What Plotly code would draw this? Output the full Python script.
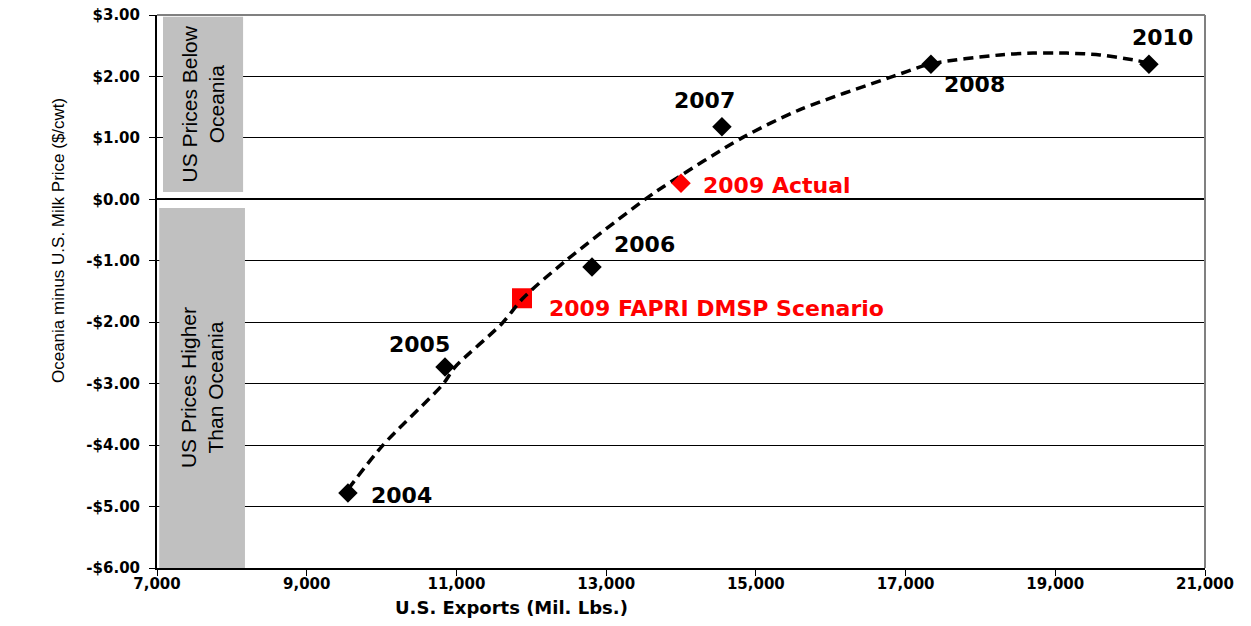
import plotly.graph_objects as go

# ---- data ----
years = ["2004", "2005", "2006", "2007", "2008", "2010"]
exports = [9551, 10847, 12811, 14547, 17339, 20251]
price_diff = [-4.78, -2.73, -1.10, 1.18, 2.20, 2.20]

actual_label = ["2009 Actual"]
actual_x = [14000]
actual_y = [0.26]

fapri_label = ["2009 FAPRI DMSP Scenario"]
fapri_x = [11876]
fapri_y = [-1.61]

# dashed trend curve
trend_x = [9551, 10019, 10820, 10981, 11609, 11889, 12450, 13519, 13759, 14815,
           15589, 16832, 17326, 18261, 18702, 19156, 19597, 20038, 20251]
trend_y = [-4.72, -4.00, -3.01, -2.73, -2.02, -1.61, -1.01, 0.00, 0.20, 1.00,
           1.46, 2.00, 2.20, 2.35, 2.38, 2.38, 2.35, 2.27, 2.22]

y_tickvals = [3, 2, 1, 0, -1, -2, -3, -4, -5, -6]
y_ticktext = ["$3.00", "$2.00", "$1.00", "$0.00", "-$1.00", "-$2.00",
              "-$3.00", "-$4.00", "-$5.00", "-$6.00"]
x_tickvals = [7000, 9000, 11000, 13000, 15000, 17000, 19000, 21000]
x_ticktext = ["7,000", "9,000", "11,000", "13,000", "15,000", "17,000", "19,000", "21,000"]

year_shifts = {"2004": (54, -2), "2005": (-25, 23), "2006": (53, 22),
               "2007": (-17, 26), "2008": (44, -20), "2010": (14, 27)}

LABEL_FONT = dict(family="DejaVu Sans", size=22, color="black")
RED_FONT = dict(family="DejaVu Sans", size=22, color="#FF0000")
BOLD_TICK = dict(family="DejaVu Sans", size=15, color="black", weight="bold")

fig = go.Figure()

fig.add_trace(go.Scatter(
    x=fapri_x, y=fapri_y, mode="markers",
    marker=dict(symbol="square", size=20, color="#FF0000", line=dict(width=0)),
    hoverinfo="skip"))

fig.add_trace(go.Scatter(
    x=trend_x, y=trend_y, mode="lines",
    line=dict(color="black", width=3.5, dash="10px,6px", shape="spline", smoothing=0.8),
    hoverinfo="skip"))

fig.add_trace(go.Scatter(
    x=exports, y=price_diff, mode="markers",
    marker=dict(symbol="diamond", size=15, color="black", line=dict(width=0)),
    hoverinfo="skip"))

fig.add_trace(go.Scatter(
    x=actual_x, y=actual_y, mode="markers",
    marker=dict(symbol="diamond", size=15, color="#FF0000", line=dict(width=0)),
    hoverinfo="skip"))

annotations = []
for yr, xv, yv in zip(years, exports, price_diff):
    dx, dy = year_shifts[yr]
    annotations.append(dict(x=xv, y=yv, xref="x", yref="y", text="<b>%s</b>" % yr,
                            showarrow=False, xshift=dx, yshift=dy,
                            font=LABEL_FONT))
annotations.append(dict(x=actual_x[0], y=actual_y[0], xref="x", yref="y",
                        text="<b>%s</b>" % actual_label[0], showarrow=False,
                        xanchor="left", xshift=20, yshift=-2, font=RED_FONT))
annotations.append(dict(x=fapri_x[0], y=fapri_y[0], xref="x", yref="y",
                        text="<b>%s</b>" % fapri_label[0], showarrow=False,
                        xanchor="left", xshift=25, yshift=-10, font=RED_FONT))

# shaded boxes
upper_box = (7080, 8150, 0.12, 2.97)
lower_box = (7030, 8175, -6.0, -0.14)
shapes = []
for (x0, x1, y0, y1) in (upper_box, lower_box):
    shapes.append(dict(type="rect", xref="x", yref="y", x0=x0, x1=x1, y0=y0, y1=y1,
                       fillcolor="#C0C0C0", line=dict(width=0), layer="between"))
annotations.append(dict(x=(upper_box[0] + upper_box[1]) / 2, y=(upper_box[2] + upper_box[3]) / 2,
                        xref="x", yref="y", text="US Prices Below<br>Oceania", textangle=-90,
                        showarrow=False,
                        font=dict(family="Liberation Sans", size=21, color="black")))
annotations.append(dict(x=(lower_box[0] + lower_box[1]) / 2, y=(lower_box[2] + lower_box[3]) / 2,
                        xref="x", yref="y", text="US Prices Higher<br>Than Oceania", textangle=-90,
                        showarrow=False,
                        font=dict(family="Liberation Sans", size=21, color="black")))

# top and right gray border
shapes.append(dict(type="line", xref="paper", yref="paper", x0=0, x1=1, y0=1, y1=1,
                   line=dict(color="#808080", width=2), layer="above"))
shapes.append(dict(type="line", xref="paper", yref="paper", x0=1, x1=1, y0=0, y1=1,
                   line=dict(color="#808080", width=2), layer="above"))

# axis titles
annotations.append(dict(x=-0.0945, y=0.593, xref="paper", yref="paper",
                        xanchor="center", yanchor="middle",
                        text="Oceania minus U.S. Milk Price ($/cwt)", textangle=-90,
                        showarrow=False,
                        font=dict(family="Liberation Sans", size=17, color="black")))
annotations.append(dict(x=0.338, y=-0.072, xref="paper", yref="paper",
                        xanchor="center", yanchor="middle",
                        text="<b>U.S. Exports (Mil. Lbs.)</b>", showarrow=False,
                        font=dict(family="DejaVu Sans", size=18, color="black")))

fig.update_layout(
    width=1251, height=626,
    margin=dict(l=157, r=46, t=15, b=58, autoexpand=False),
    paper_bgcolor="white", plot_bgcolor="white",
    showlegend=False,
    shapes=shapes, annotations=annotations,
    xaxis=dict(range=[7000, 21000], tickvals=x_tickvals, ticktext=x_ticktext,
               showgrid=False, zeroline=False, showline=True, linecolor="black",
               linewidth=2, ticks="outside", ticklen=6, tickcolor="black",
               tickfont=BOLD_TICK, automargin=False, ticklabelstandoff=-5),
    yaxis=dict(range=[-6, 3], tickvals=y_tickvals, ticktext=y_ticktext,
               showgrid=True, gridcolor="black", gridwidth=1,
               zeroline=True, zerolinecolor="black", zerolinewidth=2,
               showline=True, linecolor="black", linewidth=2,
               ticks="outside", ticklen=6, tickcolor="black",
               tickfont=BOLD_TICK, ticklabelstandoff=6, automargin=False),
)

fig.write_html("out.html", config={"displayModeBar": False},
               post_script="document.body.style.margin='0';document.body.style.overflow='hidden';")
